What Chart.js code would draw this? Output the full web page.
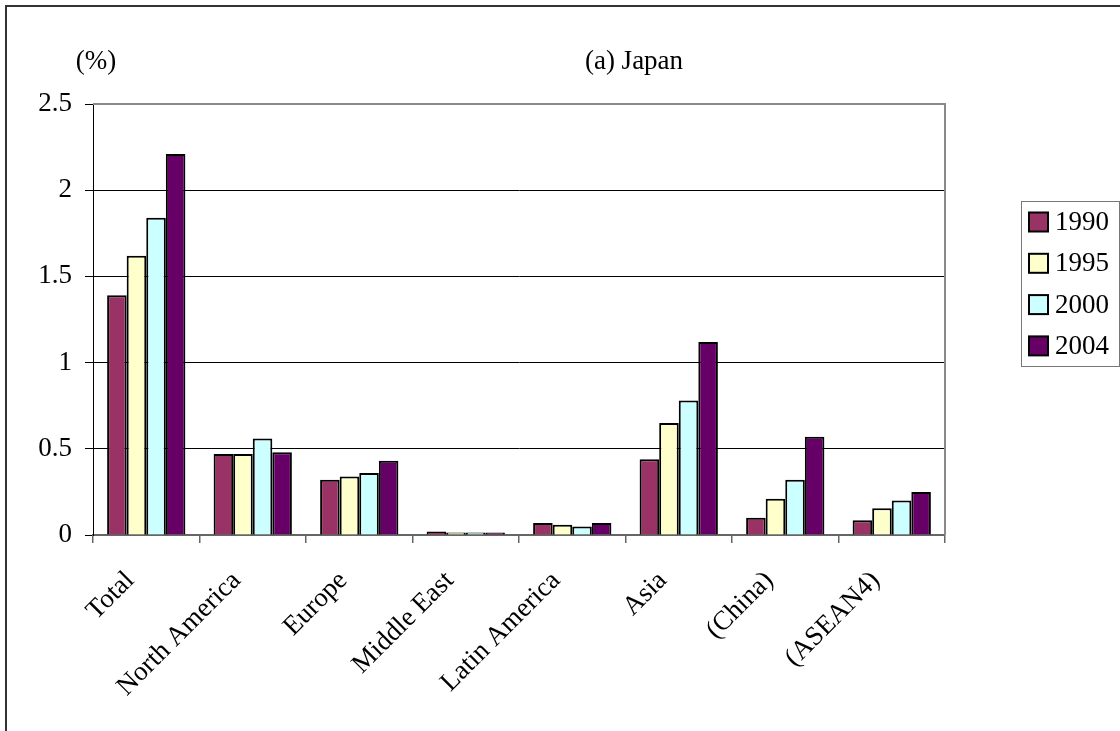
<!DOCTYPE html>
<html>
<head>
<meta charset="utf-8">
<title>(a) Japan</title>
<script src="https://cdn.jsdelivr.net/npm/chart.js@4.4.0/dist/chart.umd.min.js"></script>
<style>
  html, body { margin: 0; padding: 0; background: #fff; }
  #chart_container { width: 1120px; height: 731px; position: relative; }
</style>
</head>
<body>
<div id="chart_container"><canvas id="myChart" width="1120" height="731"></canvas></div>
<script>
// regions on the x axis
const regions = ["Total", "North America", "Europe", "Middle East", "Latin America", "Asia", "(China)", "(ASEAN4)"];
const years = ["1990", "1995", "2000", "2004"];

// share in %, one list per year, same order as regions
const y1990 = [1.39, 0.47, 0.32, 0.02, 0.07, 0.44, 0.10, 0.085];
const y1995 = [1.62, 0.47, 0.34, 0.015, 0.06, 0.65, 0.21, 0.155];
const y2000 = [1.84, 0.56, 0.36, 0.015, 0.05, 0.78, 0.32, 0.20];
const y2004 = [2.21, 0.48, 0.43, 0.015, 0.07, 1.12, 0.57, 0.25];

const yTicks = [0, 0.5, 1, 1.5, 2, 2.5];

const barColors = ["#993366", "#FFFFCC", "#CCFFFF", "#660066"];
const FONT = "'Liberation Serif', 'Times New Roman', serif";

const series = [y1990, y1995, y2000, y2004];
const datasets = years.map((yr, i) => ({
  label: yr,
  data: series[i],
  backgroundColor: barColors[i],
  borderColor: "#000",
  borderWidth: 2,
  categoryPercentage: 0.735,
  barPercentage: 1.0
}));

// frame, plot border, headings and the boxed legend
const decorations = {
  id: "decorations",
  beforeDraw(chart) {
    const c = chart.ctx;
    c.save();
    c.fillStyle = "#fff";
    c.fillRect(0, 0, chart.width, chart.height);
    c.restore();
  },
  afterDraw(chart) {
    const c = chart.ctx;
    const a = chart.chartArea;
    c.save();

    // outer frame (runs off the right and bottom edges)
    c.strokeStyle = "#333";
    c.lineWidth = 2;
    c.beginPath();
    c.moveTo(6, chart.height);
    c.lineTo(6, 6);
    c.lineTo(chart.width, 6);
    c.stroke();

    // grey border on top and right of the plot
    c.strokeStyle = "#8a8a8a";
    c.lineWidth = 2;
    c.beginPath();
    c.moveTo(a.left, a.top);
    c.lineTo(a.right, a.top);
    c.lineTo(a.right, a.bottom);
    c.stroke();

    // headings
    c.fillStyle = "#000";
    c.font = "27px " + FONT;
    c.textAlign = "center";
    c.textBaseline = "middle";
    c.fillText("(%)", 96, 62);
    c.fillText("(a) Japan", 634, 62);

    // legend
    const lx = 1021, ly = 201, lw = 98, lh = 165;
    c.strokeStyle = "#777";
    c.lineWidth = 1;
    c.strokeRect(lx + 0.5, ly + 0.5, lw, lh);
    c.textAlign = "left";
    chart.data.datasets.forEach((ds, i) => {
      const cy = 222 + i * 41.3;
      c.fillStyle = ds.backgroundColor;
      c.fillRect(1029, cy - 9.5, 19, 19);
      c.strokeStyle = "#000";
      c.lineWidth = 2;
      c.strokeRect(1029, cy - 9.5, 19, 19);
      c.fillStyle = "#000";
      c.fillText(ds.label, 1055, cy + 1);
    });
    c.restore();
  }
};

const ctx = document.getElementById("myChart").getContext("2d");
const myChart = new Chart(ctx, {
  type: "bar",
  data: { labels: regions, datasets: datasets },
  options: {
    responsive: false,
    animation: false,
    layout: { padding: { top: 104, right: 175, bottom: 0, left: 0 } },
    plugins: {
      legend: { display: false },
      tooltip: { enabled: false }
    },
    scales: {
      x: {
        afterFit(scale) { scale.height = 196; },
        grid: {
          display: true,
          drawOnChartArea: false,
          drawTicks: true,
          tickLength: 8,
          color: "#666",
          lineWidth: 1.5,
          offset: true
        },
        border: { display: true, color: "#666", width: 2 },
        ticks: {
          color: "#000",
          font: { family: FONT, size: 27 },
          minRotation: 45,
          maxRotation: 45,
          padding: 22,
          labelOffset: -16,
          autoSkip: false
        }
      },
      y: {
        min: 0,
        max: 2.5,
        afterFit(scale) { scale.width = 93; },
        afterBuildTicks(scale) { scale.ticks = yTicks.map(v => ({ value: v })); },
        grid: {
          color: "#000",
          lineWidth: 1,
          tickLength: 8,
          drawTicks: true
        },
        border: { display: true, color: "#000", width: 1 },
        ticks: {
          color: "#000",
          font: { family: FONT, size: 27 },
          padding: 13,
          callback: (v) => String(v)
        }
      }
    }
  },
  plugins: [decorations]
});
</script>
</body>
</html>
